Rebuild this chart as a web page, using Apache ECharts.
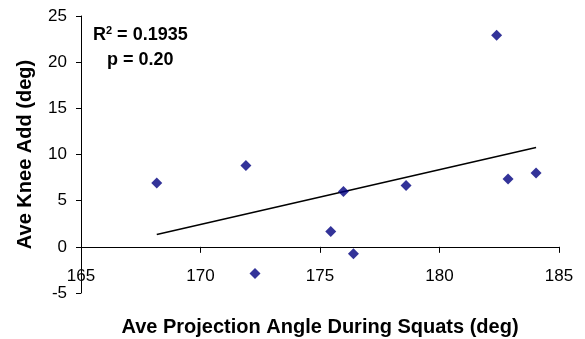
<!DOCTYPE html>
<html><head><meta charset="utf-8">
<script src="https://cdn.jsdelivr.net/npm/echarts@6/dist/echarts.min.js"></script>
<style>html,body{margin:0;padding:0;background:#fff}#c{width:585px;height:339px}</style>
</head><body><div id="c"></div>
<script>
var projAngle = [168.17, 171.9, 172.28, 175.45, 175.98, 176.4, 178.6, 182.87, 184.04, 182.39];
var kneeAdd   = [6.9, 8.8, -2.9, 1.66, 6.0, -0.76, 6.65, 7.34, 7.99, 22.92];
var xTicks = {min: 165, max: 185, interval: 5};
var yTicks = {min: -5, max: 25, interval: 5};
var annotation = ['R', '2', ' = 0.1935', 'p = 0.20'];

var pts = projAngle.map(function (x, i) { return [x, kneeAdd[i]]; });
var n = pts.length, mx = 0, my = 0;
pts.forEach(function (p) { mx += p[0]; my += p[1]; });
mx /= n; my /= n;
var sxy = 0, sxx = 0;
pts.forEach(function (p) { sxy += (p[0] - mx) * (p[1] - my); sxx += (p[0] - mx) * (p[0] - mx); });
var slope = sxy / sxx, icpt = my - slope * mx;
var xmin = Math.min.apply(null, projAngle), xmax = Math.max.apply(null, projAngle);
var trend = [[xmin, icpt + slope * xmin], [xmax, icpt + slope * xmax]];

var chart = echarts.init(document.getElementById('c'), null, {renderer: 'canvas'});
var font = 'Arial, "Liberation Sans", sans-serif';
chart.setOption({
  animation: false,
  grid: {left: 81, right: 26, top: 16, bottom: 46, containLabel: false, outerBoundsMode: 'none'},
  xAxis: {
    type: 'value', min: xTicks.min, max: xTicks.max, interval: xTicks.interval,
    name: 'Ave Projection Angle During Squats (deg)', nameLocation: 'middle', nameGap: 24,
    nameTextStyle: {fontFamily: font, fontSize: 20, fontWeight: 'bold', color: '#000'},
    axisLine: {onZero: true, lineStyle: {color: '#000', width: 1}},
    axisTick: {length: 6, lineStyle: {color: '#000'}},
    axisLabel: {fontFamily: font, fontSize: 17, color: '#000', margin: -25, showMinLabel: true, showMaxLabel: true},
    splitLine: {show: false}
  },
  yAxis: {
    type: 'value', min: yTicks.min, max: yTicks.max, interval: yTicks.interval,
    name: 'Ave Knee Add (deg)', nameLocation: 'middle', nameGap: 46, nameRotate: 90,
    nameTextStyle: {fontFamily: font, fontSize: 20, fontWeight: 'bold', color: '#000'},
    axisLine: {show: true, onZero: false, lineStyle: {color: '#000', width: 1}},
    axisTick: {show: true, length: 5, lineStyle: {color: '#000'}},
    axisLabel: {fontFamily: font, fontSize: 17, color: '#000', margin: 14},
    splitLine: {show: false}
  },
  graphic: [{
    type: 'text', left: 93, top: 25,
    style: {
      rich: {
        b: {fontFamily: font, fontSize: 18, fontWeight: 'bold', fill: '#000'},
        s: {fontFamily: font, fontSize: 11, fontWeight: 'bold', fill: '#000', verticalAlign: 'top', padding: [0, 0, 9, 0]}
      },
      text: '{b|' + annotation[0] + '}{s|' + annotation[1] + '}{b|' + annotation[2] + '}'
    }
  }, {
    type: 'text', left: 107, top: 51,
    style: {text: annotation[3], fontFamily: font, fontSize: 18, fontWeight: 'bold', fill: '#000'}
  }],
  series: [{
    type: 'scatter', data: pts, symbol: 'diamond', symbolSize: 11,
    itemStyle: {color: '#000080'}, z: 3
  }, {
    type: 'line', data: trend, symbol: 'none', lineStyle: {color: '#000', width: 1.5}, z: 2
  }]
});
</script></body></html>
